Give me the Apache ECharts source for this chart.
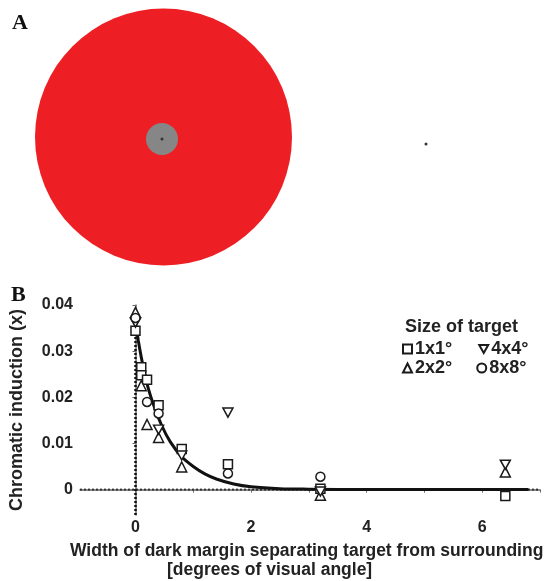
<!DOCTYPE html>
<html><head><meta charset="utf-8">
<script src="https://cdn.jsdelivr.net/npm/echarts@6/dist/echarts.min.js"></script>
<style>html,body{margin:0;padding:0;background:#fff}#c{width:548px;height:581px}</style>
</head><body><div id="c"></div>
<script>
// ---- Panel B data ----
const xTicks = [0, 1, 2, 3, 4, 5, 6, 7];
const xTickLabels = [0, 2, 4, 6];
const yTickLabels = [0, 0.01, 0.02, 0.03, 0.04];
const legendRow1 = ['1x1°', '4x4°'];
const legendRow2 = ['2x2°', '8x8°'];

const sq1X = [0, 0.1, 0.1, 0.2, 0.4, 0.8, 1.6, 3.2, 6.4];
const sq1Y = [0.0344, 0.0265, 0.0248, 0.0238, 0.0183, 0.0088, 0.0055, 0.0002, -0.0014];
const tri2X = [0, 0.1, 0.2, 0.4, 0.8, 3.2, 6.4];
const tri2Y = [0.0384, 0.0225, 0.0141, 0.0113, 0.0049, -0.0012, 0.0038];
const tri4X = [0, 0.4, 0.8, 1.6, 3.2, 6.4];
const tri4Y = [0.0362, 0.0130, 0.0074, 0.0167, -0.0004, 0.0054];
const circ8X = [0, 0.2, 0.4, 1.6, 3.2];
const circ8Y = [0.0372, 0.0190, 0.0165, 0.0035, 0.0028];

const fitX = [0, 0.05, 0.1, 0.15, 0.2, 0.3, 0.45, 0.6, 0.8, 1.0, 1.2, 1.4, 1.7, 2.0, 2.5, 3.0, 4.0, 5.0, 6.8];
const fitY = [0.0362, 0.0322, 0.0287, 0.0256, 0.0229, 0.0188, 0.0140, 0.0104, 0.0071, 0.0050, 0.0034, 0.0023, 0.0012, 0.0006, 0.0002, 0.0001, 0, 0, 0];

const zeroLineX = [-0.96, 7];
const zeroLineY = [0, 0];
const vLineX = [0, 0];
const vLineY = [-0.0055, 0.036];

// ---- Panel A stimulus (pixel space of the hidden stimulus grid) ----
const surroundCenter = [163.5, 137];
const targetCenter = [162, 139];
const fixationX = [162, 426];
const fixationY = [139, 144];

const zip = (a, b) => a.map((v, i) => [v, b[i]]);

const FONT = 'Liberation Sans, Arial, Helvetica, sans-serif';
const mk = { color: '#fff', borderColor: '#1a1a1a', borderWidth: 1.5, opacity: 1 };
const DOWN_TRI = 'path://M0,0L10,0L5,9Z';

const chart = echarts.init(document.getElementById('c'), null, { renderer: 'canvas' });
chart.setOption({
  animation: false,
  backgroundColor: '#fff',
  textStyle: { fontFamily: FONT },
  title: [
    { text: 'A', left: 12, top: 12, padding: 0, textStyle: { fontFamily: 'Liberation Serif, DejaVu Serif, serif', fontWeight: 'bold', fontSize: 22, color: '#111' } },
    { text: 'B', left: 11, top: 284, padding: 0, textStyle: { fontFamily: 'Liberation Serif, DejaVu Serif, serif', fontWeight: 'bold', fontSize: 22, color: '#111' } },
    { text: 'Size of target', left: 405, top: 318, padding: 0, textStyle: { fontFamily: FONT, fontWeight: 'bold', fontSize: 18, color: '#222' } },
    { text: 'Width of dark margin separating target from surrounding', left: 70, top: 542, padding: 0, textStyle: { fontFamily: FONT, fontWeight: 'bold', fontSize: 17.5, color: '#222' } },
    { text: '[degrees of visual angle]', left: 167, top: 561, padding: 0, textStyle: { fontFamily: FONT, fontWeight: 'bold', fontSize: 17.5, color: '#222' } }
  ],
  legend: [
    { data: legendRow1, left: 402, top: 340, padding: 0, itemWidth: 9, itemHeight: 9, itemGap: 26, selectedMode: false,
      textStyle: { fontFamily: FONT, fontSize: 18, fontWeight: 'bold', color: '#222', padding: [0, 0, 0, -2] } },
    { data: legendRow2, left: 402, top: 359, padding: 0, itemWidth: 9, itemHeight: 9, itemGap: 24, selectedMode: false,
      textStyle: { fontFamily: FONT, fontSize: 18, fontWeight: 'bold', color: '#222', padding: [0, 0, 0, -2] } }
  ],
  grid: [
    { left: 76, right: 8, top: 305, bottom: 66 },
    { left: 0, top: 0, width: 548, height: 290 }
  ],
  xAxis: [
    { type: 'value', gridIndex: 0, min: -0.96, max: 7,
      axisLine: { lineStyle: { color: '#666', width: 1.5 } },
      axisTick: { show: true, customValues: xTicks, length: 3, lineStyle: { color: '#666', width: 1 } },
      axisLabel: { customValues: xTickLabels, fontFamily: FONT, fontSize: 16, fontWeight: 'bold', color: '#222', margin: 5 },
      splitLine: { show: false } },
    { type: 'value', gridIndex: 1, min: 0, max: 548, show: false }
  ],
  yAxis: [
    { type: 'value', gridIndex: 0, min: -0.0055, max: 0.04,
      name: 'Chromatic induction (x)', nameLocation: 'middle', nameRotate: 90, nameGap: 54,
      nameTextStyle: { fontFamily: FONT, fontSize: 18, fontWeight: 'bold', color: '#222' },
      axisLine: { show: true, lineStyle: { color: '#666', width: 1.5 } },
      axisTick: { show: true, customValues: yTickLabels, length: 3, lineStyle: { color: '#666', width: 1 } },
      axisLabel: { customValues: yTickLabels, fontFamily: FONT, fontSize: 16, fontWeight: 'bold', color: '#222', margin: 7,
        formatter: v => (Math.abs(v) < 1e-9 ? '0' : v.toFixed(2)) },
      splitLine: { show: false } },
    { type: 'value', gridIndex: 1, min: 0, max: 290, inverse: true, show: false }
  ],
  series: [
    // Panel A stimulus
    { type: 'scatter', xAxisIndex: 1, yAxisIndex: 1, silent: true, symbol: 'circle', symbolSize: 257,
      itemStyle: { color: '#ED1F24', opacity: 1 }, data: [surroundCenter], z: 1 },
    { type: 'scatter', xAxisIndex: 1, yAxisIndex: 1, silent: true, symbol: 'circle', symbolSize: 32,
      itemStyle: { color: '#868686', opacity: 1 }, data: [targetCenter], z: 2 },
    { type: 'scatter', xAxisIndex: 1, yAxisIndex: 1, silent: true, symbol: 'circle', symbolSize: 3,
      itemStyle: { color: '#333', opacity: 1 }, data: zip(fixationX, fixationY), z: 3 },
    // Panel B reference lines
    { type: 'line', silent: true, symbol: 'none', data: zip(zeroLineX, zeroLineY),
      lineStyle: { color: '#333', width: 2, type: [2, 2] }, z: 1 },
    { type: 'line', silent: true, symbol: 'none', data: zip(vLineX, vLineY),
      lineStyle: { color: '#111', width: 2.5, type: [2, 2] }, z: 1 },
    // Fit curve
    { type: 'line', silent: true, symbol: 'none', smooth: 0.3, data: zip(fitX, fitY),
      lineStyle: { color: '#111', width: 3 }, z: 2 },
    // Data
    { name: '1x1°', type: 'scatter', symbol: 'rect', symbolSize: 9, itemStyle: mk, data: zip(sq1X, sq1Y), z: 5 },
    { name: '2x2°', type: 'scatter', symbol: 'triangle', symbolSize: 10, itemStyle: mk, data: zip(tri2X, tri2Y), z: 5 },
    { name: '4x4°', type: 'scatter', symbol: DOWN_TRI, symbolSize: [10, 9], itemStyle: mk, data: zip(tri4X, tri4Y), z: 5 },
    { name: '8x8°', type: 'scatter', symbol: 'circle', symbolSize: 9, itemStyle: mk, data: zip(circ8X, circ8Y), z: 5 }
  ]
});
</script>
</body></html>
